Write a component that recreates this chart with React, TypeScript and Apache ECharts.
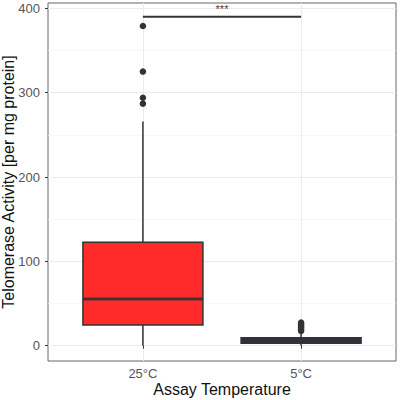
import React, { useEffect, useRef } from "react";
import * as echarts from "echarts";

const categories = ["25°C", "5°C"];
const categoryPositions = [1, 2];
// [min, Q1, median, Q3, max]
const boxStats = [
  [0, 24.6, 55.4, 122.7, 265.7],
  [0, 2.8, 5.5, 9.5, 15],
];
const outliers25 = [379, 325, 294, 287];
const outliers5 = [27.5, 25.5, 23.5, 21.5, 19.5, 17.5];
const yTicks = [0, 100, 200, 300, 400];
const yMinor = [50, 150, 250, 350];
const bracketY = 390;
const bracketLabel = "***";
const boxColors = ["#FF2A2A", "#2B2F4A"];

const FONT = "'Liberation Sans', Arial, sans-serif";

export default function App() {
  const ref = useRef<HTMLDivElement>(null);
  useEffect(() => {
    if (!ref.current) return;
    const chart = echarts.init(ref.current, null, { renderer: "svg" });
    // boxes only (Q1..Q3); whiskers drawn separately (no caps, like ggplot)
    const boxData = boxStats.map((s, i) => ({
      value: [categoryPositions[i], s[1], s[1], s[2], s[3], s[3]],
      itemStyle: { color: boxColors[i], borderColor: "#333", borderWidth: 1.5 },
    }));
    const whiskerData: number[][] = [];
    boxStats.forEach((s, i) => {
      whiskerData.push([categoryPositions[i], s[0], s[1]]);
      whiskerData.push([categoryPositions[i], s[3], s[4]]);
    });
    const outlierData = [
      ...outliers25.map((v) => [categoryPositions[0], v]),
      ...outliers5.map((v) => [categoryPositions[1], v]),
    ];
    chart.setOption({
      animation: false,
      backgroundColor: "#fff",
      textStyle: { fontFamily: FONT },
      grid: {
        left: 48,
        right: 4,
        top: 3,
        bottom: 39,
        containLabel: false,
        outerBoundsMode: "none",
        show: true,
        borderColor: "#666",
        borderWidth: 1,
      },
      xAxis: {
        type: "value",
        min: 0.4,
        max: 2.6,
        axisLine: { show: false },
        axisTick: { show: true, length: 3, lineStyle: { color: "#333" }, customValues: categoryPositions },
        axisLabel: {
          customValues: categoryPositions,
          formatter: (v: number) => categories[categoryPositions.indexOf(v)] ?? "",
          color: "#555",
          fontSize: 13,
          margin: 6,
          fontFamily: FONT,
        },
        splitLine: { show: true, lineStyle: { color: "#EBEBEB", width: 1 } },
        name: "Assay Temperature",
        nameLocation: "middle",
        nameGap: 20,
        nameMoveOverlap: false,
        nameTextStyle: { color: "#111", fontSize: 16, fontFamily: FONT },
      },
      yAxis: [
        {
          type: "value",
          min: -18.1,
          max: 406.3,
          axisLine: { show: false },
          axisTick: { show: true, length: 3, lineStyle: { color: "#333" }, customValues: yTicks },
          axisLabel: { customValues: yTicks, color: "#555", fontSize: 13, margin: 8, fontFamily: FONT },
          splitLine: { show: true, lineStyle: { color: "#EBEBEB", width: 1 } },
          name: "Telomerase Activity [per mg protein]",
          nameLocation: "middle",
          nameGap: 32,
          nameMoveOverlap: false,
          nameTextStyle: { color: "#111", fontSize: 16, fontFamily: FONT },
        },
        {
          type: "value",
          min: -18.1,
          max: 406.3,
          position: "left",
          axisLine: { show: false },
          axisTick: { show: false, customValues: yMinor },
          axisLabel: { show: false, customValues: yMinor },
          splitLine: { show: true, lineStyle: { color: "#F3F3F3", width: 0.7 } },
        },
      ],
      series: [
        {
          type: "custom",
          data: whiskerData,
          renderItem: (params: any, api: any) => {
            const x = api.value(0);
            const p1 = api.coord([x, api.value(1)]);
            const p2 = api.coord([x, api.value(2)]);
            return {
              type: "line",
              shape: { x1: p1[0], y1: p1[1], x2: p2[0], y2: p2[1] },
              style: { stroke: "#333", lineWidth: 1.5 },
            };
          },
          z: 2,
        },
        {
          type: "boxplot",
          layout: "horizontal",
          boxWidth: [120, 120],
          data: boxData,
          z: 3,
        },
        {
          type: "scatter",
          data: boxStats.map((s, i) => [categoryPositions[i], s[2]]),
          symbol: "rect",
          symbolSize: [120, 3],
          itemStyle: { color: "#333" },
          z: 4,
        },
        {
          type: "scatter",
          data: outlierData,
          symbolSize: 6.5,
          itemStyle: { color: "#333", opacity: 1 },
          z: 5,
        },
        {
          type: "line",
          data: categoryPositions.map((x) => [x, bracketY]),
          symbol: "none",
          lineStyle: { color: "#333", width: 1.8 },
          z: 5,
        },
        {
          type: "scatter",
          data: [[(categoryPositions[0] + categoryPositions[1]) / 2, bracketY]],
          symbolSize: 0,
          label: {
            show: true,
            position: "top",
            distance: 2,
            formatter: bracketLabel,
            color: "#000",
            fontSize: 11,
            fontFamily: FONT,
          },
          z: 5,
        },
      ],
    });
    return () => chart.dispose();
  }, []);
  return <div ref={ref} style={{ width: 400, height: 400, position: "absolute", left: 0, top: 0 }} />;
}
